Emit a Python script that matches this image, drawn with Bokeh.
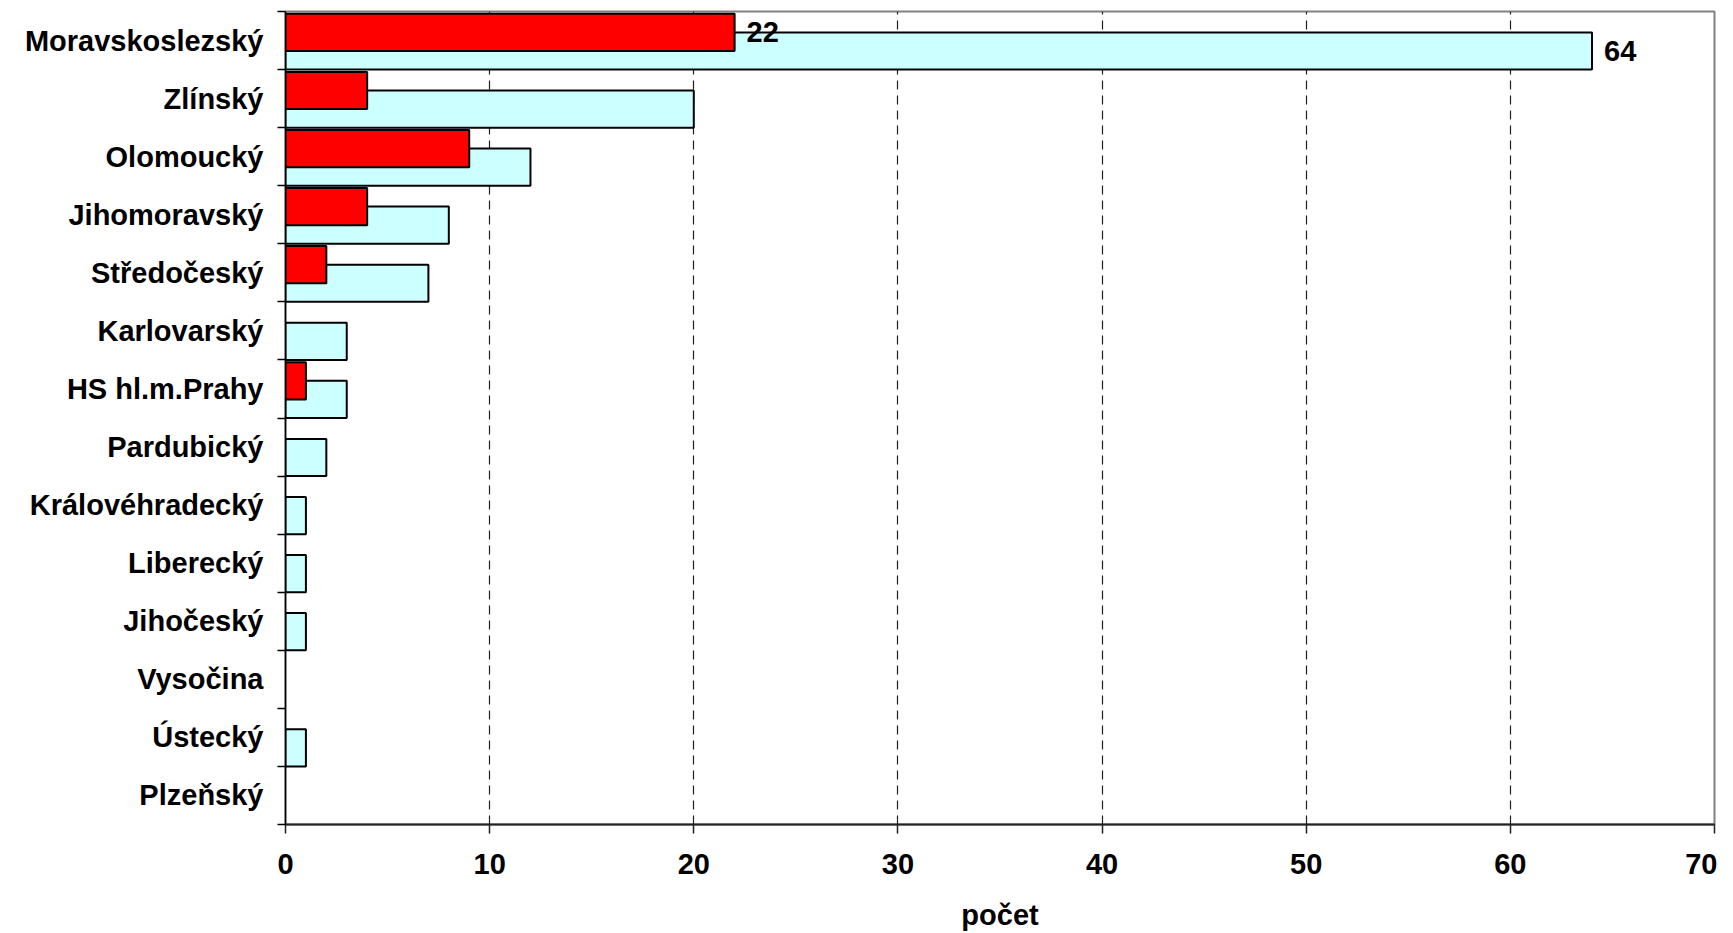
import numpy as np
from bokeh.plotting import figure
from bokeh.models import Range1d, FixedTicker, ColumnDataSource
from bokeh.core.properties import value
from bokeh.embed import file_html
from bokeh.resources import INLINE

# ---- data (top to bottom) ----
regions = ["Moravskoslezský", "Zlínský", "Olomoucký", "Jihomoravský", "Středočeský",
           "Karlovarský", "HS hl.m.Prahy", "Pardubický", "Královéhradecký", "Liberecký",
           "Jihočeský", "Vysočina", "Ústecký", "Plzeňský"]
red_values = [22, 4, 9, 4, 2, 0, 1, 0, 0, 0, 0, 0, 0, 0]
cyan_values = [64, 20, 12, 8, 7, 3, 3, 2, 1, 1, 1, 0, 1, 0]
labelled_regions = ["Moravskoslezský"]
x_ticks = [0, 10, 20, 30, 40, 50, 60, 70]
x_title = "počet"

FONT = "Liberation Sans"
FS = "29px"
n = len(regions)
centers = np.array([n - 0.5 - i for i in range(n)])

p = figure(width=1717, height=933, output_backend="svg", toolbar_location=None,
           x_range=Range1d(0, 70), y_range=Range1d(0, n),
           min_border_left=285, min_border_right=3, min_border_top=11, min_border_bottom=109)
p.background_fill_color = "white"
p.border_fill_color = "white"
p.outline_line_color = "#808080"
p.outline_line_width = 2

red = np.array(red_values, dtype=float)
cyan = np.array(cyan_values, dtype=float)
H = 0.64
rm = red > 0
cm = cyan > 0
src_c = ColumnDataSource(dict(y=centers[cm] - 0.18, right=cyan[cm]))
src_r = ColumnDataSource(dict(y=centers[rm] + 0.14, right=red[rm]))
p.hbar(y="y", right="right", left=0, height=H, source=src_c,
       fill_color="#CCFFFF", line_color="black", line_width=2)
p.hbar(y="y", right="right", left=0, height=H, source=src_r,
       fill_color="#FF0000", line_color="black", line_width=2)

# data labels
lab_idx = [regions.index(r) for r in labelled_regions]
lx, ly, lt = [], [], []
for i in lab_idx:
    if red[i] > 0:
        lx.append(red[i]); ly.append(centers[i] + 0.14); lt.append(str(red_values[i]))
    if cyan[i] > 0:
        lx.append(cyan[i]); ly.append(centers[i] - 0.18); lt.append(str(cyan_values[i]))
p.text(x=lx, y=ly, text=lt, x_offset=12, text_align="left", text_baseline="middle",
       text_font=value(FONT), text_font_style="bold", text_font_size=FS, text_color="black")

# x axis
xa = p.xaxis[0]
xa.ticker = FixedTicker(ticks=x_ticks)
xa.axis_label = x_title
xa.axis_label_text_font = FONT
xa.axis_label_text_font_style = "bold"
xa.axis_label_text_font_size = FS
xa.axis_label_text_color = "black"
xa.axis_label_standoff = 22
xa.major_label_text_font = FONT
xa.major_label_text_font_style = "bold"
xa.major_label_text_font_size = FS
xa.major_label_text_color = "black"
xa.major_label_standoff = 20
xa.major_tick_out = 9
xa.major_tick_in = 0
xa.minor_tick_line_color = None
xa.axis_line_color = "#222222"
xa.axis_line_width = 2
xa.major_tick_line_color = "#222222"
xa.major_tick_line_width = 1.5

# y axis
ya = p.yaxis[0]
ya.ticker = FixedTicker(ticks=list(centers), minor_ticks=list(range(n + 1)))
ya.major_label_overrides = {float(c): r for c, r in zip(centers, regions)}
ya.major_tick_line_color = None
ya.major_tick_out = 0
ya.major_tick_in = 0
ya.minor_tick_out = 8
ya.minor_tick_in = 0
ya.minor_tick_line_color = "black"
ya.minor_tick_line_width = 1.5
ya.major_label_standoff = 14
ya.major_label_text_font = FONT
ya.major_label_text_font_style = "bold"
ya.major_label_text_font_size = FS
ya.major_label_text_color = "black"
ya.axis_line_color = "black"
ya.axis_line_width = 1.5

p.ygrid.grid_line_color = None
p.xgrid.grid_line_color = "#202020"
p.xgrid.grid_line_dash = "9 6"
p.xgrid.grid_line_width = 1.2

open("out.html", "w").write(file_html(p, INLINE))
